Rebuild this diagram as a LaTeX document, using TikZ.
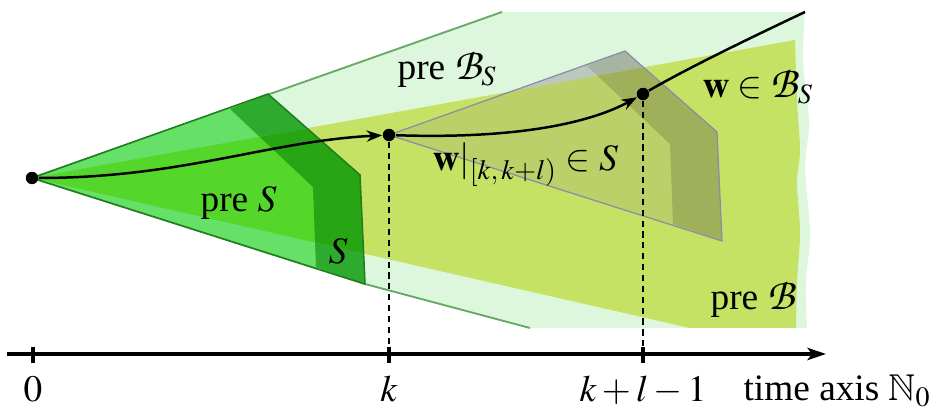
\documentclass[tikz,border=0pt]{standalone}
\usepackage{mathptmx}
\usepackage{amssymb}
\usepackage{fontspec}
\setmainfont{Liberation Serif}
\DeclareFontFamily{OT1}{pzcbig}{}
\DeclareFontShape{OT1}{pzcbig}{m}{it}{<-> s*[1.2] pzcmi7t}{}
\DeclareMathAlphabet{\mathcal}{OT1}{pzcbig}{m}{it}
\usetikzlibrary{arrows.meta}
\definecolor{preBS}{HTML}{DDF7DD}
\definecolor{preB}{HTML}{C5E264}
\definecolor{preSout}{HTML}{66E066}
\definecolor{preSin}{HTML}{55D62B}
\definecolor{Sout}{HTML}{2EAA2E}
\definecolor{Sin}{HTML}{28A514}
\definecolor{shiftout}{HTML}{BCC8BC}
\definecolor{shiftin}{HTML}{BCD06A}
\definecolor{bandout}{HTML}{A6B4A2}
\definecolor{bandin}{HTML}{A0B05A}
\definecolor{coneline}{HTML}{66AA66}
\definecolor{Sline}{HTML}{1F7F1F}
\definecolor{shiftline}{HTML}{8C8CAA}
\tikzset{dot/.style={circle,fill=black,inner sep=0pt,minimum size=4pt},traj/.style={-{Stealth[length=5pt,width=3.6pt]},line width=0.8pt},axis/.style={-{Stealth[length=6pt,width=4pt,inset=1.5pt]},line width=1pt},tick/.style={line width=1pt},guide/.style={line width=0.4pt,dash pattern=on 2pt off 1.5pt},lab/.style={inner sep=0pt}}
\newcommand{\preSshape}{(0,0) -- (236,-84) -- (328,-3) -- (333,106) -- cycle}
\newcommand{\Sband}{(198,-69) -- (236,-84) -- (328,-3) -- (333,106) -- (284,89) -- (281,9) -- cycle}
\newcommand{\preBshape}{(32,178) -- (795,40) -- plot[smooth] coordinates {(795,40) (797,100) (800,150) (797,183) (800,233) (797,283) (796,328)} -- (690,328) -- cycle}
\begin{document}
\begin{tikzpicture}[x=0.3217pt,y=-0.3217pt,font=\fontsize{12}{14}\selectfont]
\useasboundingbox (0,0) rectangle (935,409);
% behaviours
\fill[preBS] (32,178) -- (502,12) -- plot[smooth] coordinates {(805,12) (803,60) (809,123) (805,167) (810,233) (806,283) (807,328)} -- (530,328) -- (365,284) -- cycle;
\draw[coneline,line width=0.6pt] (32,178) -- (502,12);
\draw[coneline,line width=0.6pt] (32,178) -- (365,284) -- (530,328);
\fill[preB] \preBshape;
% pre S and S
\fill[preSout,shift={(32,178)}] \preSshape;
\fill[Sout,shift={(32,178)}] \Sband;
\begin{scope}
\clip \preBshape;
\fill[preSin,shift={(32,178)}] \preSshape;
\fill[Sin,shift={(32,178)}] \Sband;
\end{scope}
\draw[Sline,line width=0.5pt,shift={(32,178)}] \preSshape;
% shifted S
\fill[shiftout,shift={(389,135)}] \preSshape;
\fill[bandout,shift={(389,135)}] \Sband;
\begin{scope}
\clip \preBshape;
\fill[shiftin,shift={(389,135)}] \preSshape;
\fill[bandin,shift={(389,135)}] \Sband;
\end{scope}
\draw[shiftline,line width=0.4pt,shift={(389,135)}] \preSshape;
% trajectory
\node[dot] (o) at (32,178) {};
\node[dot] (k) at (389,135) {};
\node[dot] (kl) at (643,94) {};
\coordinate (w) at (805,12);
\draw[traj] (o) .. controls +(150,0) and +(-120,6) .. (k);
\draw[traj] (k) .. controls +(150,5) and +(-40,22) .. (kl);
\draw[line width=0.8pt] (kl) .. controls +(45,-26) and +(-55,26) .. (w);
% time axis
\coordinate (axL) at (7,354);
\coordinate (axR) at (826,354);
\draw[axis] (axL) -- (axR);
\foreach \x in {33,389,643} \draw[tick] (\x,347) -- (\x,363);
\draw[guide] (k) -- (k |- axL);
\draw[guide] (kl) -- (kl |- axL);
% labels
\node[lab,anchor=base west] (lpreBS) at (397,80) {pre $\mathcal{B}_S$};
\node[lab,anchor=base west] (lpreS) at (200,212) {pre $S$};
\node[lab,anchor=base west] (lS) at (328,264) {$S$};
\node[lab,anchor=base west] (lwS) at (432,171) {$\mathbf{w}|_{[k,\,k+l)}\in S$};
\node[lab,anchor=base west] (lwBS) at (702,98) {$\mathbf{w}\in\mathcal{B}_S$};
\node[lab,anchor=base west] (lpreB) at (710,310) {pre $\mathcal{B}$};
\node[lab,anchor=base] (l0) at (33,402) {$0$};
\node[lab,anchor=base] (lk) at (389,402) {$k$};
\node[lab,anchor=base] (lkl) at (643,402) {$k+l-1$};
\node[lab,anchor=base west] (ltime) at (743,401) {time axis $\mathbb{N}_0$};
\end{tikzpicture}
\end{document}
